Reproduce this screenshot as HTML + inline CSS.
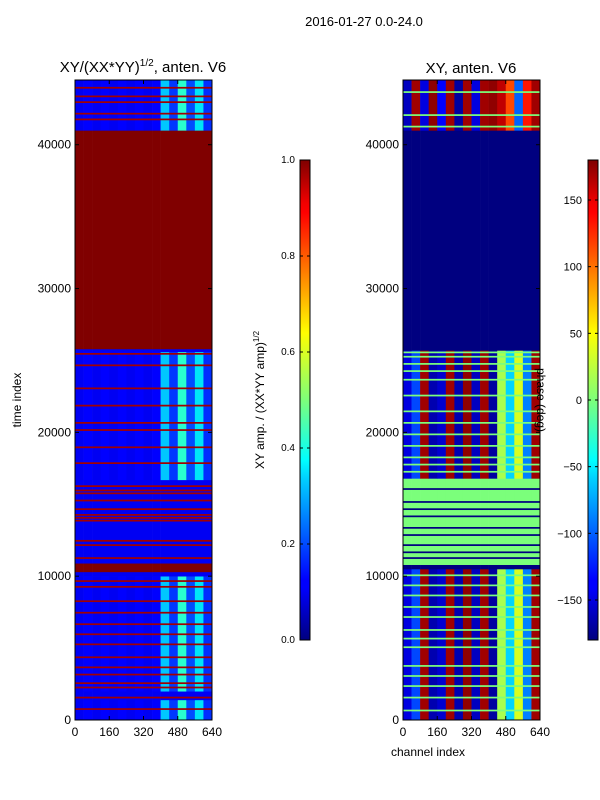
<!DOCTYPE html>
<html><head><meta charset="utf-8">
<style>
html,body{margin:0;padding:0;background:#fff;}
svg{display:block;font-family:"Liberation Sans",sans-serif;}
</style></head>
<body>
<svg id="fig" width="600" height="800" viewBox="0 0 600 800">
<defs>
<linearGradient id="jetg" x1="0" y1="1" x2="0" y2="0">
<stop offset="0" stop-color="#00007f"/><stop offset="0.11" stop-color="#0000ff"/><stop offset="0.125" stop-color="#0000ff"/>
<stop offset="0.34" stop-color="#00d4ff"/><stop offset="0.375" stop-color="#0ff"/><stop offset="0.5" stop-color="#7dff7a"/>
<stop offset="0.64" stop-color="#ff0"/><stop offset="0.66" stop-color="#ffea00"/><stop offset="0.89" stop-color="#ff0000"/><stop offset="0.91" stop-color="#f20000"/>
<stop offset="1" stop-color="#7f0000"/>
</linearGradient>
</defs>
<text x="364" y="26" font-size="13" text-anchor="middle">2016-01-27 0.0-24.0</text>
<text x="143" y="72" font-size="15" text-anchor="middle">XY/(XX*YY)<tspan font-size="10" dy="-6">1/2</tspan><tspan dy="6">, anten. V6</tspan></text>
<text x="471" y="73" font-size="15" text-anchor="middle">XY, anten. V6</text>
<g id="left-heat"></g>
<g id="right-heat"></g>
<g id="axes"></g>
<text transform="translate(21,400) rotate(-90)" font-size="12" text-anchor="middle">time index</text>
<text x="428" y="756" font-size="12" text-anchor="middle">channel index</text>
<rect x="300" y="160" width="10" height="480" fill="url(#jetg)" stroke="#000" stroke-width="1"/>
<rect x="588" y="160" width="10" height="480" fill="url(#jetg)" stroke="#000" stroke-width="1"/>
<text transform="translate(264,400) rotate(-90)" font-size="12" text-anchor="middle">XY amp. / (XX*YY amp)<tspan font-size="8" dy="-5">1/2</tspan></text>
<text transform="translate(537,400) rotate(90)" font-size="12" text-anchor="middle">phase (deg)</text>
<g id="cbticks"></g>
</svg>
<script>
const channelTicks=[0,160,320,480,640];
const timeTicks=[0,10000,20000,30000,40000];
const leftCbTicks=[0.0,0.2,0.4,0.6,0.8,1.0];
const rightCbTicks=[-150,-100,-50,0,50,100,150];
// left: amplitude bands [t0,t1,kind]
const leftBands=[[0,1400,'active'],[1400,2000,'quiet'],[2000,10000,'active'],[10000,10300,'quiet'],[10300,10900,'sat'],[10900,16700,'quiet'],[16700,25600,'active'],[25600,25800,'quiet'],[25800,41000,'sat'],[41000,44500,'active']];
const leftQuiet=0.1, leftSat=1.0;
const leftActiveProfile=[0.1,0.11,0.1,0.11,0.1,0.11,0.1,0.11,0.1,0.11,0.32,0.18,0.4,0.2,0.35,0.17];
const leftRedLines=[700,1500,2200,2500,3100,3600,4300,5200,5900,6600,7400,8200,9200,9600,11200,12100,12400,13800,14000,14200,14600,15200,15700,15900,16200,17800,18900,20100,20600,21800,23000,24600,25400,41700,42100,42900,43300,43900];
// right: phase bands
const rightBands=[[0,10500,'mix'],[10500,10800,'navy'],[10800,16800,'green'],[16800,25700,'mix'],[25700,41000,'navy'],[41000,44500,'top']];
const rightMixProfile=[-150,-110,170,-165,-155,170,-165,175,-160,170,-170,20,-60,40,-90,170];
const rightTopProfile=[-160,170,-150,175,-140,170,-170,170,-150,170,175,160,120,-100,140,170];
const rightGreenLines=[600,1500,2300,3000,3700,5000,5600,6200,7100,7800,8600,9300,10000,17200,17700,18200,19000,19800,20600,21400,22500,23600,24200,24700,25200,25500,41200,42000,43600];
const rightNavyLines=[11200,11600,12100,12800,13300,14100,14600,15100,16000];

const NS='http://www.w3.org/2000/svg';
const TMAX=44500, NCH=640;
const plotTop=80, plotBot=720;
const yT=t=>plotBot-(t/TMAX)*(plotBot-plotTop);
function xC(x0){return c=>x0+(c/NCH)*137;}
function jet(v){v=Math.max(0,Math.min(1,v));
 const itp=(pts)=>{for(let i=1;i<pts.length;i++){if(v<=pts[i][0]){const a=pts[i-1],b=pts[i];return a[1]+(b[1]-a[1])*(v-a[0])/(b[0]-a[0]);}}return pts[pts.length-1][1];};
 const r=itp([[0,0],[0.35,0],[0.66,1],[0.89,1],[1,0.5]]);
 const g=itp([[0,0],[0.125,0],[0.375,1],[0.64,1],[0.91,0],[1,0]]);
 const b=itp([[0,0.5],[0.11,1],[0.34,1],[0.65,0],[1,0]]);
 return `rgb(${Math.round(r*255)},${Math.round(g*255)},${Math.round(b*255)})`;}
function rect(g,x,y,w,h,fill,name){const r=document.createElementNS(NS,'rect');
 r.setAttribute('x',x);r.setAttribute('y',y);r.setAttribute('width',w);r.setAttribute('height',h);r.setAttribute('fill',fill);
 
 
 g.appendChild(r);}
function drawHeat(gid,x0,bands,profiles,norm,lines1,v1,lines2,v2,prefix){
 const g=document.getElementById(gid), X=xC(x0), ncol=16, cw=NCH/ncol;
 bands.forEach(([t0,t1,k])=>{
  const y=yT(t1),h=yT(t0)-yT(t1);
  for(let c=0;c<ncol;c++){const val=profiles[k](c);
   rect(g,X(c*cw),y,X((c+1)*cw)-X(c*cw)+0.3,h+0.3,jet(norm(val)),prefix+'-cell');}
 });
 lines1.forEach(t=>rect(g,x0,yT(t+120),137,Math.max(1,yT(t)-yT(t+120)),jet(norm(v1)),prefix+'-line'));
 lines2.forEach(t=>rect(g,x0,yT(t+120),137,Math.max(1,yT(t)-yT(t+120)),jet(norm(v2)),prefix+'-line'));
}
drawHeat('left-heat',75,leftBands,{active:c=>leftActiveProfile[c],quiet:()=>leftQuiet,sat:()=>leftSat},v=>v,leftRedLines,0.97,[],0,'amp');
drawHeat('right-heat',403,rightBands,{mix:c=>rightMixProfile[c],top:c=>rightTopProfile[c],navy:()=>-180,green:()=>0},v=>(v+180)/360,rightGreenLines,0,rightNavyLines,-180,'phase');

const ax=document.getElementById('axes');
function line(g,x1,y1,x2,y2,name){const l=document.createElementNS(NS,'line');
 l.setAttribute('x1',x1);l.setAttribute('y1',y1);l.setAttribute('x2',x2);l.setAttribute('y2',y2);l.setAttribute('stroke','#000');
 
 
 g.appendChild(l);}
function text(g,x,y,s,anchor,name){const t=document.createElementNS(NS,'text');
 t.setAttribute('x',x);t.setAttribute('y',y);t.setAttribute('font-size','12');t.setAttribute('text-anchor',anchor);t.textContent=s;
 
 
 g.appendChild(t);}
[75,403].forEach((x0,i)=>{
 const f=document.createElementNS(NS,'rect');
 f.setAttribute('x',x0);f.setAttribute('y',plotTop);f.setAttribute('width',137);f.setAttribute('height',plotBot-plotTop);
 f.setAttribute('fill','none');f.setAttribute('stroke','#000');
 
 
 ax.appendChild(f);
 const X=xC(x0);
 channelTicks.forEach(c=>{line(ax,X(c),plotBot,X(c),plotBot-4,'x-tick');line(ax,X(c),plotTop,X(c),plotTop+4,'x-tick');
  text(ax,X(c),736,String(c),'middle','x-tick-label');});
 timeTicks.forEach(t=>{line(ax,x0,yT(t),x0+4,yT(t),'y-tick');line(ax,x0+137,yT(t),x0+133,yT(t),'y-tick');
  text(ax,x0-4,yT(t)+4,String(t),'end','y-tick-label');});
});
const cb=document.getElementById('cbticks');
leftCbTicks.forEach(v=>{const y=640-v*480;line(cb,300,y,303,y,'cb-tick');line(cb,310,y,307,y,'cb-tick');
 const t=document.createElementNS(NS,'text');t.setAttribute('x',295);t.setAttribute('y',y+3);t.setAttribute('font-size','10');t.setAttribute('text-anchor','end');t.textContent=v.toFixed(1);
 
 
 cb.appendChild(t);});
rightCbTicks.forEach(v=>{const y=640-(v+180)/360*480;line(cb,588,y,591,y,'cb-tick');line(cb,598,y,595,y,'cb-tick');
 const t=document.createElementNS(NS,'text');t.setAttribute('x',582);t.setAttribute('y',y+4);t.setAttribute('font-size','11');t.setAttribute('text-anchor','end');t.textContent=String(v).replace('-','\u2212');
 
 
 cb.appendChild(t);});
</script>
</body></html>
